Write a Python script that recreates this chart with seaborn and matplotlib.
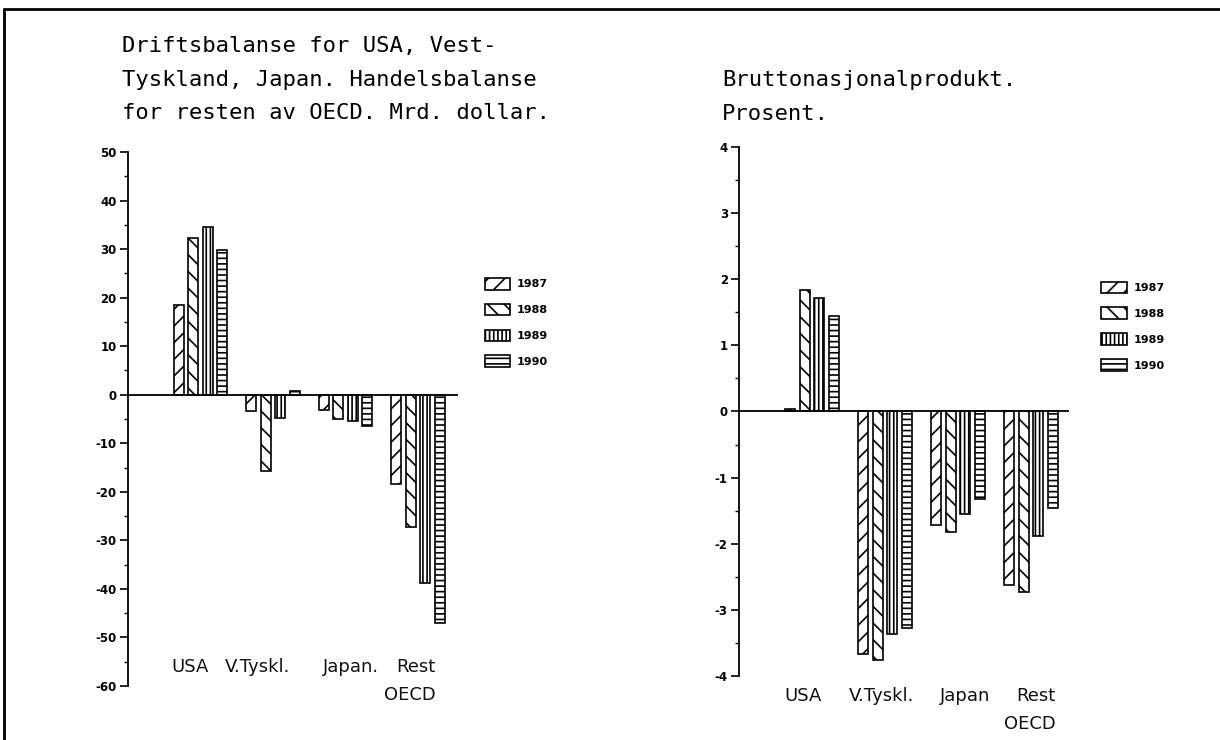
import matplotlib
matplotlib.use("Agg")
import numpy as np
import pandas as pd
import matplotlib.pyplot as plt
import seaborn as sns
from matplotlib.lines import Line2D
from matplotlib.patches import Patch
from matplotlib.ticker import MultipleLocator
from matplotlib.transforms import blended_transform_factory

# Data
aarstall = ["1987", "1988", "1989", "1990"]
land = ["USA", "V.Tyskl.", "Japan", "Rest"]
etiketter_v = ["USA", "V.Tyskl.", "Japan.", "Rest\nOECD"]
etiketter_h = ["USA", "V.Tyskl.", "Japan", "Rest\nOECD"]

# Driftsbalanse / handelsbalanse, mrd. dollar
bal_1987 = [18.4, -3.4, -3.2, -18.3]
bal_1988 = [32.2, -15.7, -5.0, -27.2]
bal_1989 = [34.6, -4.8, -5.5, -38.8]
bal_1990 = [29.8, 0.7, -6.4, -47.0]

# Bruttonasjonalprodukt, prosent
bnp_1987 = [0.03, -3.66, -1.72, -2.63]
bnp_1988 = [1.83, -3.76, -1.82, -2.73]
bnp_1989 = [1.71, -3.37, -1.55, -1.89]
bnp_1990 = [1.44, -3.27, -1.32, -1.46]

hatches = ["//", "\\\\", "||||", "---"]

# small horizontal nudges of the category labels (in category units)
forskyv_v = [-0.14, -0.22, 0.07, -0.11]
forskyv_h = [-0.12, -0.05, 0.1, -0.02]


def til_tabell(serier):
    rader = []
    for aar, verdier in zip(aarstall, serier):
        for l, v in zip(land, verdier):
            rader.append({"land": l, "aar": aar, "verdi": v})
    return pd.DataFrame(rader)


df_bal = til_tabell([bal_1987, bal_1988, bal_1989, bal_1990])
df_bnp = til_tabell([bnp_1987, bnp_1988, bnp_1989, bnp_1990])

sns.set_style("white")
plt.rcParams.update({
    "font.family": ["DejaVu Sans"],
    "axes.unicode_minus": False,
    "hatch.linewidth": 1.2,
    "hatch.color": "black",
    "text.color": "black",
    "ytick.color": "black",
    "xtick.color": "black",
    "axes.labelcolor": "black",
})

fig = plt.figure(figsize=(12.2, 7.4), dpi=100)
ax1 = fig.add_axes([0.1049, 0.0730, 0.2705, 0.7216])
ax2 = fig.add_axes([0.6057, 0.0865, 0.2705, 0.7149])


def tegn(ax, df, ylim, major, minor, xlim):
    sns.barplot(data=df, x="land", y="verdi", hue="aar", order=land,
                hue_order=aarstall, palette=["white"] * 4, saturation=1,
                edgecolor="black", linewidth=1.2, width=0.8, gap=0.3,
                errorbar=None, legend=False, ax=ax)
    for cont, h in zip(ax.containers, hatches):
        for bar in cont:
            bar.set_hatch(h)
    ax.axhline(0, color="black", lw=1.3, zorder=3)
    ax.set_ylim(*ylim)
    ax.set_xlim(*xlim)
    ax.set_xticks([])
    ax.set_xlabel("")
    ax.set_ylabel("")
    ax.yaxis.set_major_locator(MultipleLocator(major))
    ax.yaxis.set_minor_locator(MultipleLocator(minor))
    ax.tick_params(axis="y", which="major", direction="out", length=6,
                   width=1.2, left=True, labelsize=8.5, pad=2)
    ax.tick_params(axis="y", which="minor", direction="out", length=3,
                   width=1.0, left=True)
    for t in ax.get_yticklabels():
        t.set_fontweight("bold")
    sns.despine(ax=ax, bottom=True)
    ax.spines["left"].set_linewidth(1.3)
    ax.spines["left"].set_color("black")
    ax.set_facecolor("none")


tegn(ax1, df_bal, (-60, 50), 10, 5, (-1.0, 3.55))
tegn(ax2, df_bnp, (-4, 4), 1, 0.5, (-1.0, 3.52))

# Category labels inside/below the plot area
for ax, etik, dx, y in [(ax1, etiketter_v, forskyv_v, 0.052),
                        (ax2, etiketter_h, forskyv_h, -0.021)]:
    trans = blended_transform_factory(ax.transData, ax.transAxes)
    for i, (e, d) in enumerate(zip(etik, dx)):
        ax.text(i + d, y, e, transform=trans, ha="center", va="top",
                multialignment="right", fontsize=13, fontweight="normal",
                family="DejaVu Sans", linespacing=1.7, color="#111111")

# Legends
for ax, pos in [(ax1, (0.3926, 0.632)), (ax2, (0.898, 0.627))]:
    handles = [Patch(facecolor="white", edgecolor="black", hatch=h,
                     linewidth=1.2, label=a) for h, a in zip(hatches, aarstall)]
    ax.legend(handles=handles, loc="upper left", bbox_to_anchor=pos,
              bbox_transform=fig.transFigure, frameon=False, borderpad=0,
              handlelength=2.3, handleheight=1.25, labelspacing=1.27,
              handletextpad=0.6, prop={"size": 8, "weight": "bold"})

# Titles
tittel_v = "Driftsbalanse for USA, Vest-\nTyskland, Japan. Handelsbalanse\nfor resten av OECD. Mrd. dollar."
tittel_h = "Bruttonasjonalprodukt.\nProsent."
fig.text(0.1, 1 - 36 / 740, tittel_v, ha="left", va="top", family="DejaVu Sans Mono",
         fontsize=16, linespacing=1.85, color="black")
fig.text(0.592, 1 - 70 / 740, tittel_h, ha="left", va="top", family="DejaVu Sans Mono",
         fontsize=16, linespacing=1.85, color="black")

# Frame lines of the scanned page
fig.add_artist(Line2D([0.0035, 0.0035], [0, 0.988], transform=fig.transFigure,
                      color="black", lw=2))
fig.add_artist(Line2D([0.0035, 1.0], [0.988, 0.988], transform=fig.transFigure,
                      color="black", lw=2))

fig.savefig("out.png", dpi=100)
